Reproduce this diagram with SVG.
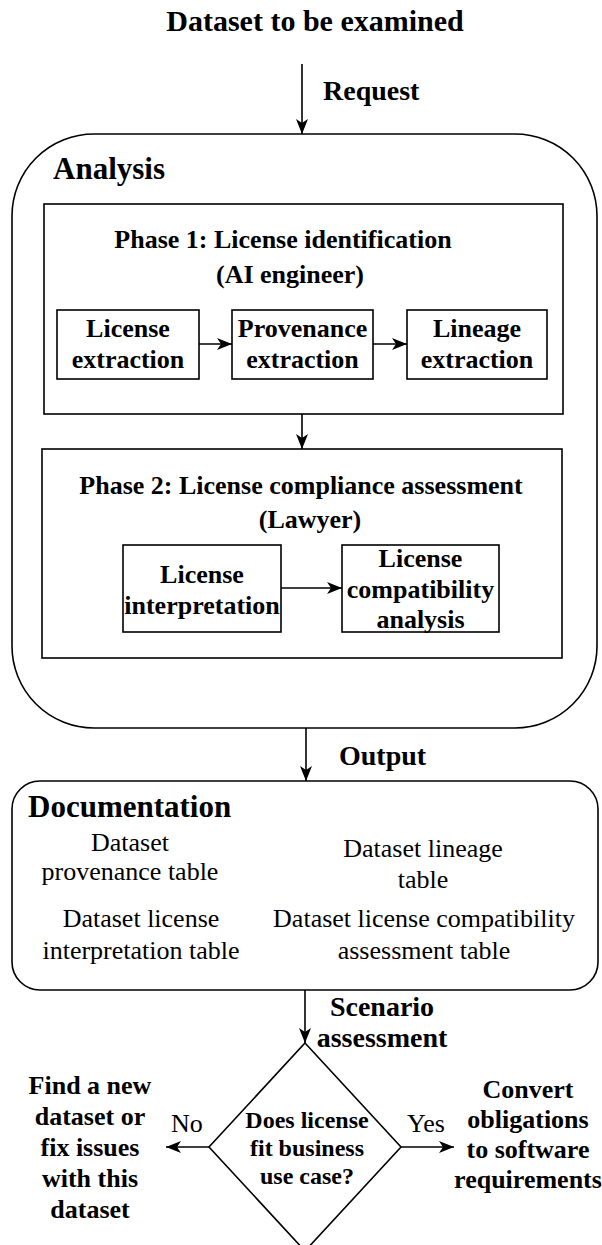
<svg xmlns="http://www.w3.org/2000/svg" width="602" height="1245" viewBox="0 0 602 1245">
<style>
text{font-family:"Liberation Serif","Times New Roman",serif;fill:#000}
.b{font-weight:bold}
.t30{font-size:30px}
.t31{font-size:31px}
.t28{font-size:28px}
.t26{font-size:26px}
.t24{font-size:24px}
.box{fill:#fff;stroke:#000;stroke-width:1.6}
.edge{fill:none;stroke:#000;stroke-width:1.6;marker-end:url(#arr)}
.m{text-anchor:middle}
</style>
<defs>
<marker id="arr" markerUnits="userSpaceOnUse" markerWidth="16" markerHeight="12" refX="15" refY="6" orient="auto">
<path d="M0,0 L15,6 L0,12 L4,6 z" fill="#000"/>
</marker>
</defs>
<rect x="0" y="0" width="602" height="1245" fill="#fff"/>

<g id="title">
<text class="b t30 m" x="315" y="31">Dataset to be examined</text>
</g>

<g id="analysis">
<rect class="box" x="12" y="134" width="585" height="594" rx="82" ry="82"/>
<text class="b t31" x="53" y="179">Analysis</text>
</g>

<g id="phase1">
<rect class="box" x="44" y="204" width="519" height="210"/>
<text class="b t26 m" x="283" y="248">Phase 1: License identification</text>
<text class="b t26 m" x="290" y="283">(AI engineer)</text>
</g>
<g id="license-extraction">
<rect class="box" x="57" y="310" width="142" height="69"/>
<text class="b t26 m" x="128" y="337">License</text>
<text class="b t26 m" x="128" y="368">extraction</text>
</g>
<g id="provenance-extraction">
<rect class="box" x="232" y="310" width="141" height="69"/>
<text class="b t26 m" x="302.5" y="337">Provenance</text>
<text class="b t26 m" x="302.5" y="368">extraction</text>
</g>
<g id="lineage-extraction">
<rect class="box" x="407" y="310" width="140" height="69"/>
<text class="b t26 m" x="477" y="337">Lineage</text>
<text class="b t26 m" x="477" y="368">extraction</text>
</g>

<g id="phase2">
<rect class="box" x="42" y="449" width="520" height="209"/>
<text class="b t26 m" x="301" y="494">Phase 2: License compliance assessment</text>
<text class="b t26 m" x="310" y="528">(Lawyer)</text>
</g>
<g id="license-interpretation">
<rect class="box" x="123" y="545" width="158" height="87"/>
<text class="b t26 m" x="202" y="583">License</text>
<text class="b t26 m" x="202" y="614">interpretation</text>
</g>
<g id="license-compatibility">
<rect class="box" x="342" y="545" width="157" height="87"/>
<text class="b t26 m" x="420.5" y="567">License</text>
<text class="b t26 m" x="420.5" y="598">compatibility</text>
<text class="b t26 m" x="420.5" y="628">analysis</text>
</g>

<g id="documentation">
<rect class="box" x="12" y="781" width="586" height="209" rx="28" ry="28"/>
<text class="b t31" x="28" y="817">Documentation</text>
<text class="t26 m" x="130" y="851">Dataset</text>
<text class="t26 m" x="130" y="880">provenance table</text>
<text class="t26 m" x="423" y="857">Dataset lineage</text>
<text class="t26 m" x="423" y="888">table</text>
<text class="t26 m" x="141" y="927">Dataset license</text>
<text class="t26 m" x="141" y="959">interpretation table</text>
<text class="t26 m" x="424" y="927">Dataset license compatibility</text>
<text class="t26 m" x="424" y="959">assessment table</text>
</g>

<g id="decision">
<path class="box" d="M305,1043 L401,1147 L305,1251 L209,1147 Z"/>
<text class="b t24 m" x="307" y="1128">Does license</text>
<text class="b t24 m" x="307" y="1156">fit business</text>
<text class="b t24 m" x="307" y="1184">use case?</text>
</g>

<g id="find-new">
<text class="b t26 m" x="90" y="1094">Find a new</text>
<text class="b t26 m" x="90" y="1125">dataset or</text>
<text class="b t26 m" x="90" y="1156">fix issues</text>
<text class="b t26 m" x="90" y="1187">with this</text>
<text class="b t26 m" x="90" y="1218">dataset</text>
</g>

<g id="convert">
<text class="b t26 m" x="528" y="1098">Convert</text>
<text class="b t26 m" x="528" y="1128">obligations</text>
<text class="b t26 m" x="528" y="1158">to software</text>
<text class="b t26 m" x="528" y="1188">requirements</text>
</g>

<g id="connectors">
<line class="edge" x1="302" y1="64" x2="302" y2="134"/>
<text class="b t28" x="323" y="100">Request</text>
<line class="edge" x1="199" y1="344" x2="232" y2="344"/>
<line class="edge" x1="373" y1="344" x2="407" y2="344"/>
<line class="edge" x1="302" y1="414" x2="302" y2="449"/>
<line class="edge" x1="281" y1="588" x2="342" y2="588"/>
<line class="edge" x1="306" y1="728" x2="306" y2="781"/>
<text class="b t28" x="339" y="765">Output</text>
<line class="edge" x1="305" y1="990" x2="305" y2="1043"/>
<text class="b t28 m" x="382" y="1016">Scenario</text>
<text class="b t28 m" x="382" y="1047">assessment</text>
<line class="edge" x1="209" y1="1147" x2="166" y2="1147"/>
<text class="t26" x="171" y="1132">No</text>
<line class="edge" x1="401" y1="1147" x2="454" y2="1147"/>
<text class="t26 m" x="426" y="1132">Yes</text>
</g>
</svg>
